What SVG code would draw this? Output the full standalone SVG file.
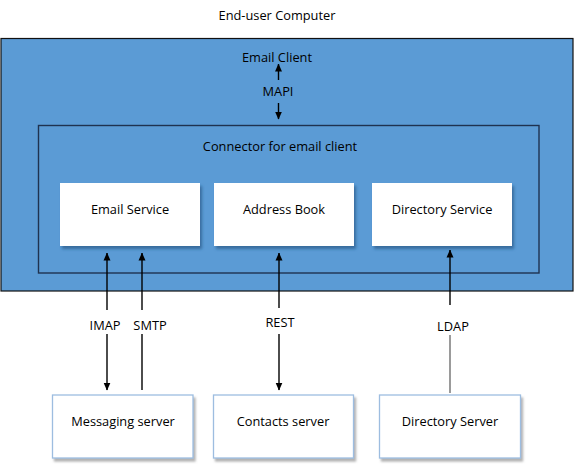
<svg xmlns="http://www.w3.org/2000/svg" width="583" height="469" viewBox="0 0 583 469">
<style>
text{font-family:"Open Sans","Liberation Sans",Arial,sans-serif;font-size:12.8px;fill:#000;text-anchor:middle;dominant-baseline:central}
.svc{fill:#fff;stroke:none}
.srv{fill:#fff;stroke:#9dbde0;stroke-width:1.3}
.ln{stroke:#000;stroke-width:1.4;fill:none}
.gl{stroke:#707070;stroke-width:1.4;fill:none}
</style>
<defs>
<marker id="ah" viewBox="0 0 8 8" refX="7.5" refY="4" markerWidth="8" markerHeight="8" markerUnits="userSpaceOnUse" orient="auto">
<path d="M0,0.5 L8,4 L0,7.5 Z" fill="#000"/>
</marker>
<filter id="sh1" x="-10%" y="-10%" width="125%" height="130%">
<feDropShadow dx="2" dy="3" stdDeviation="1.5" flood-color="#1f4e79" flood-opacity="0.6"/>
</filter>
<filter id="sh2" x="-10%" y="-10%" width="125%" height="130%">
<feDropShadow dx="2" dy="3" stdDeviation="1.3" flood-color="#808080" flood-opacity="0.6"/>
</filter>
</defs>
<rect width="583" height="469" fill="#fff"/>
<text x="277" y="15">End-user Computer</text>
<g id="computer">
<rect x="1" y="38.5" width="572" height="252.5" fill="#5b9bd5" stroke="#111" stroke-width="1.2"/>
<text x="277" y="57">Email Client</text>
</g>
<g id="connector">
<rect x="38.5" y="125.5" width="500.5" height="147.5" fill="none" stroke="#1f3250" stroke-width="1.4"/>
<text x="280" y="146">Connector for email client</text>
</g>
<g id="email-service">
<rect class="svc" x="60" y="183" width="140" height="63" filter="url(#sh1)"/>
<text x="130" y="209">Email Service</text>
</g>
<g id="address-book">
<rect class="svc" x="214" y="183" width="140" height="63" filter="url(#sh1)"/>
<text x="284" y="209">Address Book</text>
</g>
<g id="directory-service">
<rect class="svc" x="372" y="183" width="140" height="63" filter="url(#sh1)"/>
<text x="442" y="209">Directory Service</text>
</g>
<g id="messaging-server">
<rect class="srv" x="52.5" y="395" width="140.5" height="63" filter="url(#sh2)"/>
<text x="123" y="421">Messaging server</text>
</g>
<g id="contacts-server">
<rect class="srv" x="213.5" y="395" width="140" height="63" filter="url(#sh2)"/>
<text x="283" y="421">Contacts server</text>
</g>
<g id="directory-server">
<rect class="srv" x="379.5" y="395" width="141" height="63" filter="url(#sh2)"/>
<text x="450" y="421">Directory Server</text>
</g>
<g id="connectors">
<line class="ln" x1="278.5" y1="80" x2="278.5" y2="64" marker-end="url(#ah)"/>
<text x="278" y="91">MAPI</text>
<line class="ln" x1="278.5" y1="103" x2="278.5" y2="119" marker-end="url(#ah)"/>
<line class="ln" x1="107" y1="310" x2="107" y2="253" marker-end="url(#ah)"/>
<text x="105" y="325">IMAP</text>
<line class="ln" x1="107" y1="334" x2="107" y2="390" marker-end="url(#ah)"/>
<line class="ln" x1="142" y1="310" x2="142" y2="253" marker-end="url(#ah)"/>
<text x="150" y="325">SMTP</text>
<line class="ln" x1="142" y1="334" x2="142" y2="390"/>
<line class="ln" x1="279" y1="308" x2="279" y2="253" marker-end="url(#ah)"/>
<text x="280" y="322">REST</text>
<line class="ln" x1="279" y1="334" x2="279" y2="390" marker-end="url(#ah)"/>
<line class="ln" x1="450" y1="305" x2="450" y2="250" marker-end="url(#ah)"/>
<text x="453" y="326">LDAP</text>
<line class="gl" x1="450" y1="335" x2="450" y2="393"/>
</g>
</svg>
